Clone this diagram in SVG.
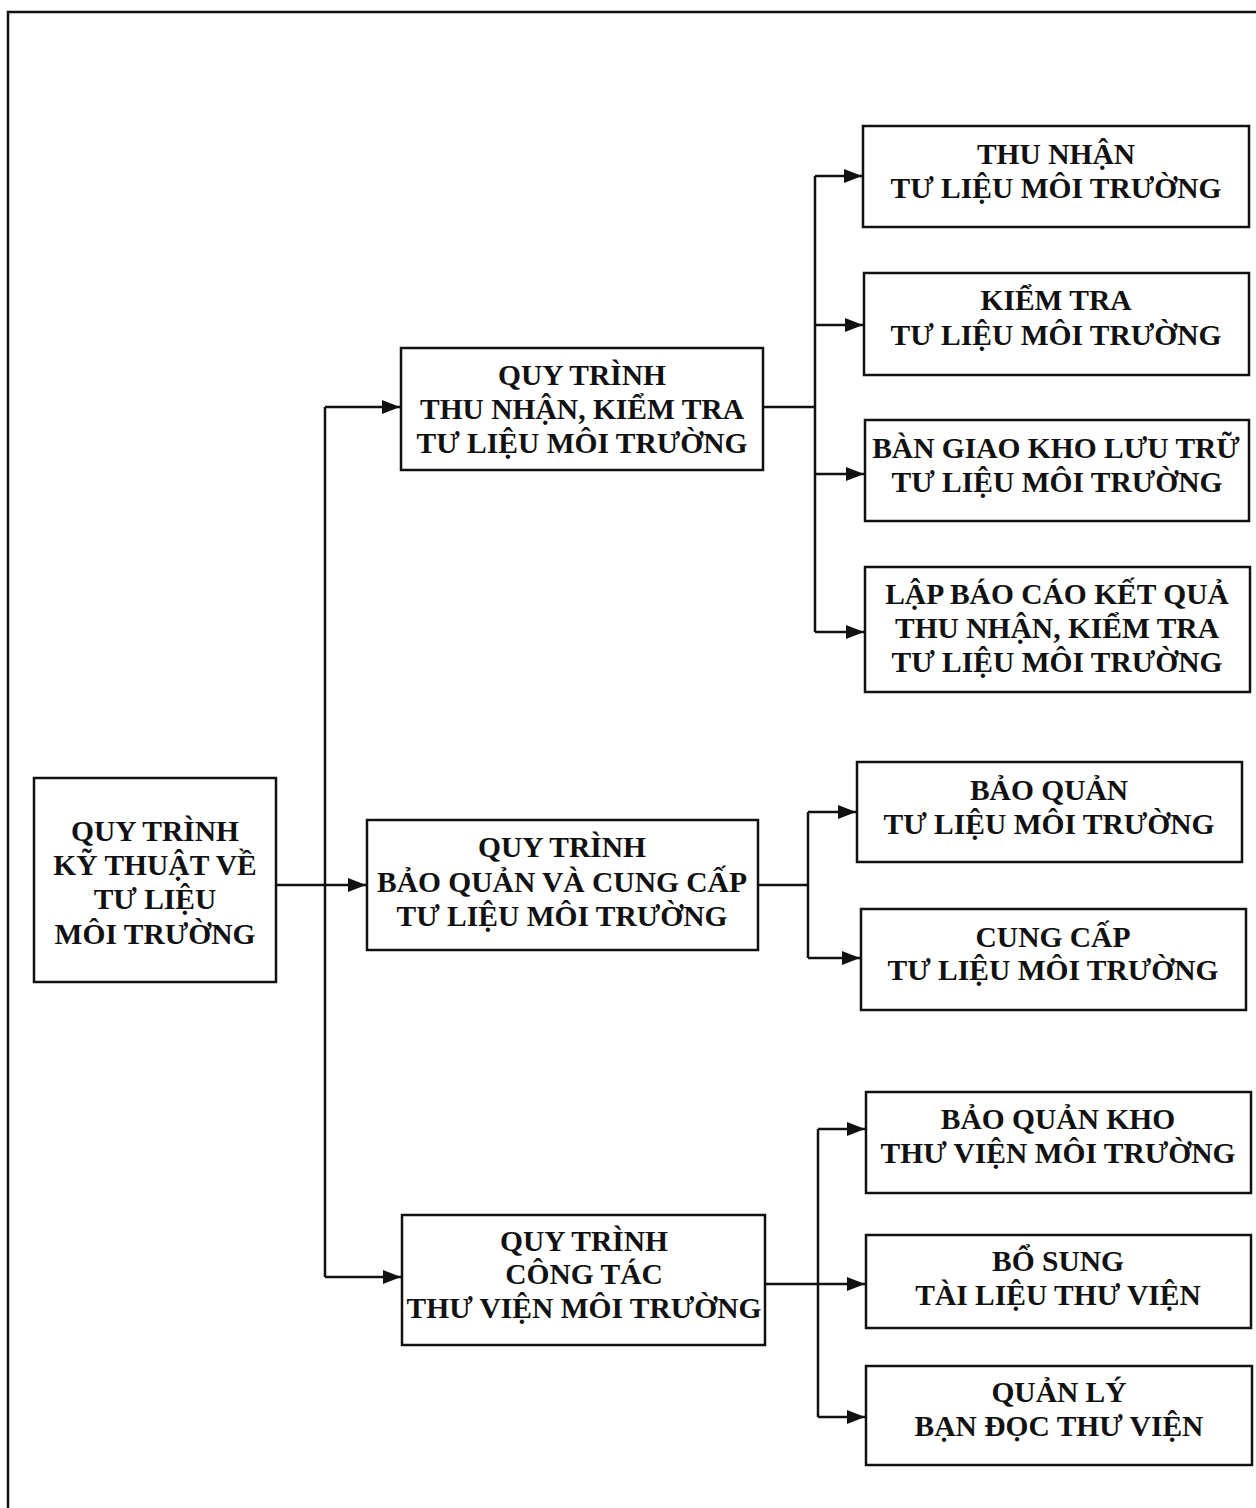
<svg xmlns="http://www.w3.org/2000/svg" width="1256" height="1508" viewBox="0 0 1256 1508">
<style>
.box{fill:#fff;stroke:#111;stroke-width:2.5}
.t{font-family:"Liberation Serif","Times New Roman",serif;font-weight:bold;font-size:29.5px;fill:#111;text-anchor:middle}
.c{fill:none;stroke:#111;stroke-width:2.5}
</style>
<defs>
<marker id="ah" markerWidth="18" markerHeight="14" refX="18" refY="7" orient="auto" markerUnits="userSpaceOnUse">
<path d="M0,0 L18,7 L0,14 Z" fill="#111"/>
</marker>
</defs>
<rect width="1256" height="1508" fill="#fff"/>
<rect x="8" y="12" width="1262" height="1510" fill="none" stroke="#111" stroke-width="2.5"/>
<g id="connectors">
<path class="c" d="M276,885 H366" marker-end="url(#ah)"/>
<path class="c" d="M325,407 V1277"/>
<path class="c" d="M325,407 H400" marker-end="url(#ah)"/>
<path class="c" d="M325,1277 H401" marker-end="url(#ah)"/>
<path class="c" d="M763,407 H815"/>
<path class="c" d="M815,176 V632"/>
<path class="c" d="M815,176 H862" marker-end="url(#ah)"/>
<path class="c" d="M815,325 H863" marker-end="url(#ah)"/>
<path class="c" d="M815,474 H864" marker-end="url(#ah)"/>
<path class="c" d="M815,632 H864" marker-end="url(#ah)"/>
<path class="c" d="M758,885 H808"/>
<path class="c" d="M808,812 V958"/>
<path class="c" d="M808,812 H856" marker-end="url(#ah)"/>
<path class="c" d="M808,958 H860" marker-end="url(#ah)"/>
<path class="c" d="M765,1284 H865" marker-end="url(#ah)"/>
<path class="c" d="M818,1129 V1417"/>
<path class="c" d="M818,1129 H865" marker-end="url(#ah)"/>
<path class="c" d="M818,1417 H865" marker-end="url(#ah)"/>
</g>
<g id="root">
<rect class="box" x="34" y="778" width="242" height="204"/>
<text class="t" x="155" y="841">QUY TRÌNH</text>
<text class="t" x="155" y="875">KỸ THUẬT VỀ</text>
<text class="t" x="155" y="909">TƯ LIỆU</text>
<text class="t" x="155" y="944">MÔI TRƯỜNG</text>
</g>
<g id="proc-a">
<rect class="box" x="401" y="348" width="362" height="122"/>
<text class="t" x="582" y="385">QUY TRÌNH</text>
<text class="t" x="582" y="419">THU NHẬN, KIỂM TRA</text>
<text class="t" x="582" y="453">TƯ LIỆU MÔI TRƯỜNG</text>
</g>
<g id="proc-b">
<rect class="box" x="367" y="820" width="391" height="130"/>
<text class="t" x="562" y="857">QUY TRÌNH</text>
<text class="t" x="562" y="892">BẢO QUẢN VÀ CUNG CẤP</text>
<text class="t" x="562" y="926">TƯ LIỆU MÔI TRƯỜNG</text>
</g>
<g id="proc-c">
<rect class="box" x="402" y="1215" width="363" height="130"/>
<text class="t" x="584" y="1251">QUY TRÌNH</text>
<text class="t" x="584" y="1284">CÔNG TÁC</text>
<text class="t" x="584" y="1318">THƯ VIỆN MÔI TRƯỜNG</text>
</g>
<g id="leaf1">
<rect class="box" x="863" y="126" width="386" height="101"/>
<text class="t" x="1056" y="164">THU NHẬN</text>
<text class="t" x="1056" y="198">TƯ LIỆU MÔI TRƯỜNG</text>
</g>
<g id="leaf2">
<rect class="box" x="864" y="273" width="385" height="102"/>
<text class="t" x="1056" y="310">KIỂM TRA</text>
<text class="t" x="1056" y="345">TƯ LIỆU MÔI TRƯỜNG</text>
</g>
<g id="leaf3">
<rect class="box" x="865" y="420" width="384" height="101"/>
<text class="t" x="1056" y="458">BÀN GIAO KHO LƯU TRỮ</text>
<text class="t" x="1057" y="492">TƯ LIỆU MÔI TRƯỜNG</text>
</g>
<g id="leaf4">
<rect class="box" x="865" y="567" width="385" height="125"/>
<text class="t" x="1057" y="604">LẬP BÁO CÁO KẾT QUẢ</text>
<text class="t" x="1057" y="638">THU NHẬN, KIỂM TRA</text>
<text class="t" x="1057" y="672">TƯ LIỆU MÔI TRƯỜNG</text>
</g>
<g id="leaf5">
<rect class="box" x="857" y="762" width="385" height="100"/>
<text class="t" x="1049" y="800">BẢO QUẢN</text>
<text class="t" x="1049" y="834">TƯ LIỆU MÔI TRƯỜNG</text>
</g>
<g id="leaf6">
<rect class="box" x="861" y="909" width="385" height="101"/>
<text class="t" x="1053" y="947">CUNG CẤP</text>
<text class="t" x="1053" y="980">TƯ LIỆU MÔI TRƯỜNG</text>
</g>
<g id="leaf7">
<rect class="box" x="866" y="1092" width="385" height="101"/>
<text class="t" x="1058" y="1129">BẢO QUẢN KHO</text>
<text class="t" x="1058" y="1163">THƯ VIỆN MÔI TRƯỜNG</text>
</g>
<g id="leaf8">
<rect class="box" x="866" y="1235" width="385" height="93"/>
<text class="t" x="1058" y="1271">BỔ SUNG</text>
<text class="t" x="1058" y="1305">TÀI LIỆU THƯ VIỆN</text>
</g>
<g id="leaf9">
<rect class="box" x="866" y="1366" width="386" height="99"/>
<text class="t" x="1059" y="1402">QUẢN LÝ</text>
<text class="t" x="1059" y="1436">BẠN ĐỌC THƯ VIỆN</text>
</g>
</svg>
